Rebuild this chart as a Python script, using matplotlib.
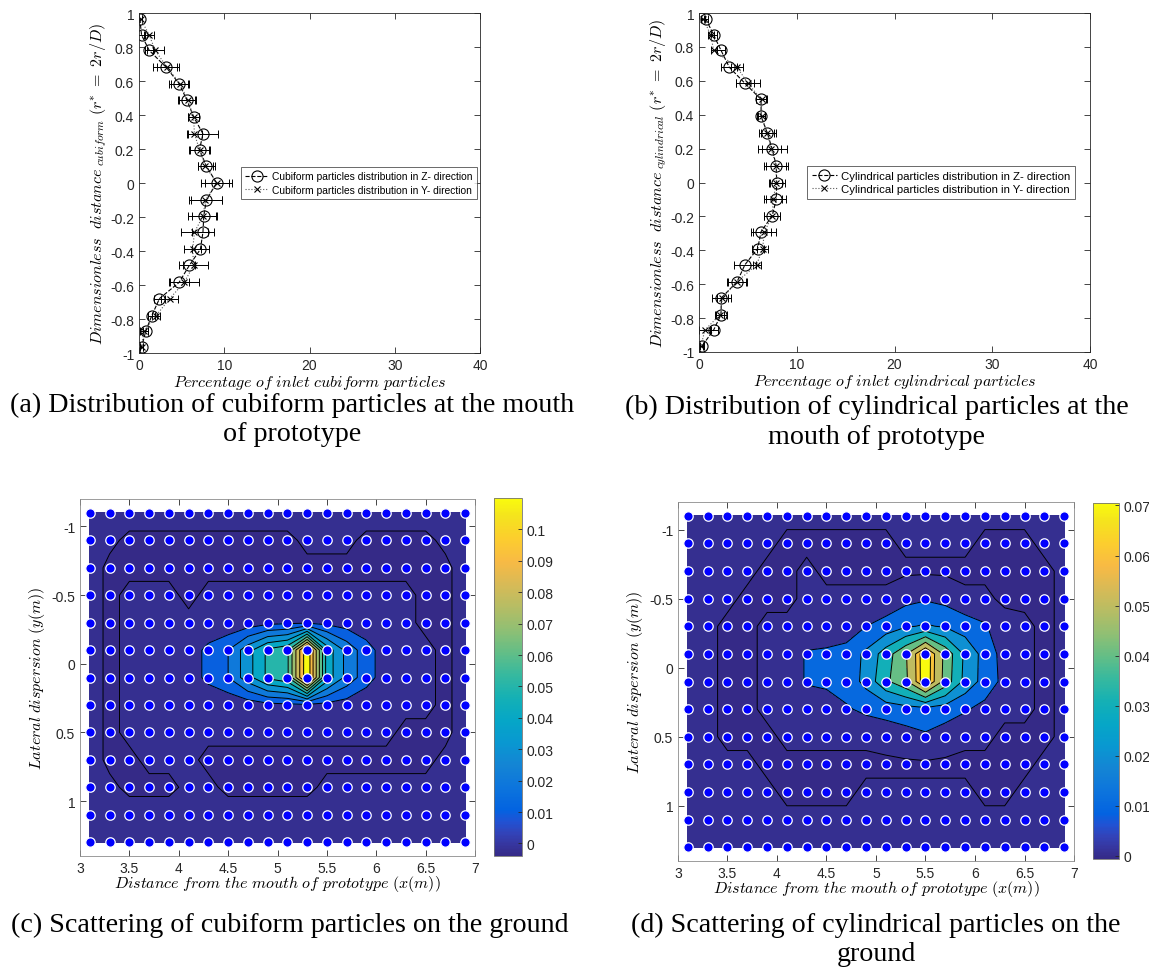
import numpy as np
import matplotlib
matplotlib.use('Agg')
import matplotlib.pyplot as plt
from matplotlib.colors import LinearSegmentedColormap, Normalize
from matplotlib.cm import ScalarMappable

plt.rcParams['mathtext.fontset'] = 'cm'
plt.rcParams['font.family'] = ['Liberation Sans', 'DejaVu Sans']
plt.rcParams['axes.unicode_minus'] = False

W, H = 1149, 979

# --- (a) / (b): profiles at the mouth of the prototype ---
r_star = [0.965, 0.87, 0.78, 0.68, 0.585, 0.49, 0.39, 0.29, 0.195, 0.1, 0.0,
          -0.1, -0.195, -0.29, -0.39, -0.485, -0.585, -0.68, -0.78, -0.87, -0.965]

cub_z = [0.1, 0.3, 1.2, 3.2, 4.7, 5.6, 6.4, 7.5, 7.1, 7.9, 9.1,
         7.9, 7.6, 7.5, 7.2, 5.9, 4.7, 2.4, 1.5, 0.8, 0.3]
cub_z_err = [0.2, 0.4, 0.5, 1.5, 1.2, 1.0, 0.6, 1.8, 1.2, 1.0, 1.8,
             1.8, 1.4, 1.3, 1.0, 0.7, 1.2, 0.6, 0.4, 0.3, 0.2]
cub_y = [0.2, 1.2, 1.9, 3.3, 4.8, 5.7, 6.4, 6.5, 7.1, 7.8, 9.1,
         7.8, 7.5, 6.5, 6.3, 6.4, 5.3, 3.6, 2.0, 0.6, 0.3]
cub_y_err = [0.2, 0.6, 1.0, 1.2, 1.0, 1.0, 0.6, 0.9, 1.1, 0.9, 1.4,
             1.9, 1.7, 1.6, 1.0, 1.7, 1.7, 1.0, 0.5, 0.5, 0.2]

cyl_z = [0.7, 1.5, 2.25, 3.1, 4.7, 6.35, 6.35, 7.0, 7.5, 7.9, 7.95,
         7.9, 7.5, 6.35, 6.0, 4.7, 3.9, 2.3, 2.25, 1.5, 0.3]
cyl_z_err = [0.2, 0.3, 0.4, 0.8, 0.9, 0.5, 0.4, 0.9, 1.5, 1.2, 0.8,
             1.0, 0.8, 1.0, 0.6, 1.1, 1.0, 1.0, 0.6, 0.4, 0.2]
cyl_y = [0.45, 1.2, 1.5, 3.9, 5.0, 6.4, 6.4, 7.0, 7.4, 7.9, 7.9,
         7.6, 7.5, 6.7, 6.5, 5.9, 3.9, 2.4, 2.15, 0.6, 0.2]
cyl_y_err = [0.2, 0.3, 0.3, 0.6, 1.2, 0.6, 0.4, 0.7, 1.0, 1.0, 0.6,
             0.9, 0.8, 1.2, 0.6, 0.4, 0.9, 0.6, 0.4, 0.6, 0.2]

# --- (c) / (d): measuring points on the ground and deposited fraction ---
x_pts = [3.1, 3.3, 3.5, 3.7, 3.9, 4.1, 4.3, 4.5, 4.7, 4.9,
         5.1, 5.3, 5.5, 5.7, 5.9, 6.1, 6.3, 6.5, 6.7, 6.9]
y_pts = [-1.1, -0.9, -0.7, -0.5, -0.3, -0.1, 0.1, 0.3, 0.5, 0.7, 0.9, 1.1, 1.3]

# values in 1/1000
cub_ground = [
    [2, 2, 2, 2, 2, 2, 2, 2, 2, 2, 2, 2, 2, 2, 2, 2, 2, 2, 2, 2],
    [2, 1, -1, -1, -1, -1, -1, -1, -1, -1, -1, 1, 1, 1, -1, -1, -1, -1, 1, 2],
    [2, -1, -1, -1, -1, -1, -1, -1, -1, -1, -1, -1, -1, -1, -1, -1, -1, -1, -1, 2],
    [2, -1, 1, 1, 1, -1, 1, 1, 1, 1, 1, 1, 1, 1, 1, 1, 1, -1, -1, 2],
    [2, -1, 1, 1, 1, 1, 1, 2, 4, 7, 8, 8, 7, 5, 3, 2, 1, -1, -1, 2],
    [2, -1, 1, 1, 2, 4, 13, 20, 36, 52, 58, 109, 46, 27, 14, 5, 2, 1, -1, 2],
    [2, -1, 1, 1, 2, 4, 13, 20, 36, 52, 58, 109, 46, 27, 14, 5, 2, 1, -1, 2],
    [2, -1, 1, 1, 1, 1, 1, 2, 4, 7, 8, 8, 7, 5, 3, 2, 1, 1, -1, 2],
    [2, -1, 1, 1, 1, 1, 1, 1, 1, 1, 1, 1, 1, 1, 1, 1, -1, -1, -1, 2],
    [2, -1, -1, 1, 1, 1, -1, -1, -1, -1, -1, -1, -1, -1, -1, -1, -1, -1, 1, 2],
    [2, 1, -1, -1, -1, 1, 1, -1, -1, -1, -1, -1, 1, 1, 1, 1, 1, 1, 1, 2],
    [2, 2, 2, 2, 2, 2, 2, 2, 2, 2, 2, 2, 2, 2, 2, 2, 2, 2, 2, 2],
    [2, 2, 2, 2, 2, 2, 2, 2, 2, 2, 2, 2, 2, 2, 2, 2, 2, 2, 2, 2],
]
cyl_ground = [
    [3, 3, 3, 3, 3, 3, 3, 3, 3, 3, 3, 3, 3, 3, 3, 3, 3, 3, 3, 3],
    [3, 3, 3, 3, 3, 1, 1, 1, 1, 1, 1, 3, 3, 3, 3, 1, 1, 1, 3, 3],
    [3, 3, 3, 3, 1, 1, 3, 1, 1, 1, 1, 1, 1, 1, 1, 1, 1, 1, 1, 3],
    [3, 3, 3, 1, 1, 1, 3, 3, 3, 3, 3, 7, 9, 7, 3, 3, 1, 1, 1, 3],
    [3, 3, 1, 1, 3, 3, 3, 3, 4, 10, 14, 19, 21, 19, 15, 11, 4, 3, 1, 3],
    [3, 3, 1, 1, 3, 4, 11, 12, 14, 22, 35, 49, 71, 47, 28, 16, 6, 3, 1, 3],
    [3, 3, 1, 1, 3, 4, 11, 12, 14, 23, 38, 48, 71, 46, 27, 16, 7, 3, 1, 3],
    [3, 3, 1, 1, 3, 3, 3, 5, 9, 12, 14, 16, 17, 15, 11, 7, 3, 3, 1, 3],
    [3, 3, 1, 1, 1, 3, 3, 3, 3, 3, 4, 6, 8.5, 5, 3, 3, 1, 1, 1, 3],
    [3, 3, 3, 3, 1, 1, 1, 1, 1, 1, 1, 1, 1, 1, 1, 1, 1, 1, 3, 3],
    [3, 3, 3, 3, 3, 1, 1, 1, 1, 3, 3, 3, 3, 3, 3, 1, 1, 3, 3, 3],
    [3, 3, 3, 3, 3, 3, 3, 3, 3, 3, 3, 3, 3, 3, 3, 3, 3, 3, 3, 3],
    [3, 3, 3, 3, 3, 3, 3, 3, 3, 3, 3, 3, 3, 3, 3, 3, 3, 3, 3, 3],
]

# parula-like colormap (sampled from the 64 entry table)
parula = LinearSegmentedColormap.from_list('parula', [
    (0 / 63, (0.2081, 0.1663, 0.5292)), (2 / 63, (0.2123, 0.2138, 0.6270)),
    (4 / 63, (0.1959, 0.2645, 0.7279)), (6 / 63, (0.1253, 0.3242, 0.8303)),
    (8 / 63, (0.0117, 0.3875, 0.8820)), (12 / 63, (0.0498, 0.4586, 0.8641)),
    (16 / 63, (0.0793, 0.5200, 0.8312)), (20 / 63, (0.0343, 0.5966, 0.8199)),
    (24 / 63, (0.0228, 0.6535, 0.7768)), (28 / 63, (0.0843, 0.6928, 0.7062)),
    (32 / 63, (0.2178, 0.7250, 0.6193)), (36 / 63, (0.3953, 0.7459, 0.5244)),
    (40 / 63, (0.5709, 0.7485, 0.4494)), (44 / 63, (0.7184, 0.7411, 0.3905)),
    (48 / 63, (0.8507, 0.7299, 0.3360)), (52 / 63, (0.9739, 0.7314, 0.2666)),
    (56 / 63, (0.9880, 0.8066, 0.1794)), (60 / 63, (0.9589, 0.8949, 0.1132)),
    (1.0, (0.9763, 0.9831, 0.0538))])

fig = plt.figure(figsize=(W / 100, H / 100), dpi=100)


def box(l, t, r, b):
    return [l / W, 1 - b / H, (r - l) / W, (b - t) / H]


def matlab_axes(ax, edge='0.15'):
    ax.tick_params(direction='in', top=True, right=True, labelsize=10,
                   labelcolor='0.15', color='0.15', length=4, width=0.6)
    for s in ax.spines.values():
        s.set_color(edge)
        s.set_linewidth(0.6)


def profile_panel(ax, zv, zerr, yv, yerr, name, xlab, ylab, leg_x, leg_fs):
    ax.errorbar(zv, r_star, xerr=zerr, fmt='none', ecolor='k', elinewidth=0.7,
                capsize=2.8, capthick=0.7)
    ax.errorbar(yv, r_star, xerr=yerr, fmt='none', ecolor='k', elinewidth=0.7,
                capsize=2.8, capthick=0.7)
    ax.plot(zv, r_star, '--', color='k', lw=0.8, marker='o', mfc='none', mec='k',
            ms=8, mew=0.8, label=f'{name} particles distribution in Z- direction')
    ax.plot(yv, r_star, ':', color='0.35', lw=0.8, marker='x', mec='k', ms=5,
            mew=0.8, label=f'{name} particles distribution in Y- direction')
    ax.set_xlim(0, 40)
    ax.set_ylim(-1, 1)
    ax.set_xticks([0, 10, 20, 30, 40])
    yt = [-1, -0.8, -0.6, -0.4, -0.2, 0, 0.2, 0.4, 0.6, 0.8, 1]
    ax.set_yticks(yt)
    ax.set_yticklabels([f'{v:g}' for v in yt])
    matlab_axes(ax)
    ax.set_xlabel(xlab, fontsize=11.5, labelpad=0.5)
    ax.set_ylabel(ylab, fontsize=11.5, labelpad=1)
    leg = ax.legend(loc='center left', bbox_to_anchor=(leg_x, 0.5), fontsize=leg_fs,
                    frameon=True, fancybox=False, edgecolor='0.15', handlelength=2.2,
                    borderpad=0.4, labelspacing=0.3, handletextpad=0.4)
    leg.get_frame().set_linewidth(0.6)


def ground_panel(ax, cax, vals, vmin, vmax, levels, cticks, xlab, ylab):
    X, Y = np.meshgrid(x_pts, y_pts)
    Z = np.array(vals, dtype=float) / 1000.0
    norm = Normalize(vmin, vmax)
    # MATLAB style: band coloured by its lower level, lowest bands almost the same
    cols = [parula(0.0), parula(0.012)] + [parula(norm(l)) for l in levels[2:-2]] + [parula(1.0)]
    ax.contourf(X, Y, Z, levels=levels, colors=cols)
    ax.contour(X, Y, Z, levels=levels[1:-1], colors='k', linewidths=0.7)
    ax.scatter(X.ravel(), Y.ravel(), s=46, c='#0000ff', edgecolors='white',
               linewidths=0.9, zorder=3)
    ax.set_xlim(3, 7)
    ax.set_ylim(1.4, -1.2)
    xt = [3, 3.5, 4, 4.5, 5, 5.5, 6, 6.5, 7]
    ax.set_xticks(xt)
    ax.set_xticklabels([f'{v:g}' for v in xt])
    yt = [-1, -0.5, 0, 0.5, 1]
    ax.set_yticks(yt)
    ax.set_yticklabels([f'{v:g}' for v in yt])
    matlab_axes(ax, edge='0.55')
    ax.set_xlabel(xlab, fontsize=11.5, labelpad=-1)
    ax.set_ylabel(ylab, fontsize=11.5, labelpad=3)
    cb = fig.colorbar(ScalarMappable(norm=norm, cmap=parula), cax=cax)
    cb.set_ticks(cticks)
    cb.set_ticklabels([f'{v:g}' for v in cticks])
    cax.tick_params(direction='in', labelsize=10, labelcolor='0.15', color='0.15',
                    length=3, width=0.6)
    cb.outline.set_edgecolor('0.45')
    cb.outline.set_linewidth(0.6)


ax_a = fig.add_axes(box(139, 14, 480, 354))
profile_panel(ax_a, cub_z, cub_z_err, cub_y, cub_y_err, 'Cubiform',
              r'$Percentage\ of\ inlet\ cubiform\ particles$',
              r'$Dimensionless\ \ distance_{\ cubiform}\ (r^{*}\ =\ 2r/D)$',
              0.285, 7.4)

ax_b = fig.add_axes(box(699, 14, 1090, 353))
profile_panel(ax_b, cyl_z, cyl_z_err, cyl_y, cyl_y_err, 'Cylindrical',
              r'$Percentage\ of\ inlet\ cylindrical\ particles$',
              r'$Dimensionless\ \ distance_{\ cylindrical}\ (r^{*}\ =\ 2r/D)$',
              0.262, 8.2)

ax_c = fig.add_axes(box(80, 500, 475, 857))
cax_c = fig.add_axes(box(494, 499, 522, 857))
ground_panel(ax_c, cax_c, cub_ground, -0.004, 0.110,
             [-0.01, 0, 0.01, 0.02, 0.03, 0.04, 0.05, 0.06, 0.07, 0.08, 0.09, 0.10, 0.2],
             [0, 0.01, 0.02, 0.03, 0.04, 0.05, 0.06, 0.07, 0.08, 0.09, 0.1],
             r'$Distance\ from\ the\ mouth\ of\ prototype\ (x(m))$',
             r'$Lateral\ dispersion\ (y(m))$')

ax_d = fig.add_axes(box(678, 503, 1074, 862))
cax_d = fig.add_axes(box(1093, 504, 1119, 860))
ground_panel(ax_d, cax_d, cyl_ground, -0.0007, 0.0705,
             [-0.01, 0.002, 0.01, 0.02, 0.03, 0.04, 0.05, 0.06, 0.065, 0.2],
             [0, 0.01, 0.02, 0.03, 0.04, 0.05, 0.06, 0.07],
             r'$Distance\ from\ the\ mouth\ of\ prototype\ (x(m))$',
             r'$Lateral\ dispersion\ (y(m))$')

# captions
cap = dict(ha='center', va='center', fontsize=20.2, family=['Liberation Serif', 'DejaVu Serif'])
fig.text(292 / W, 1 - 405 / H, '(a) Distribution of cubiform particles at the mouth', **cap)
fig.text(292 / W, 1 - 435 / H, 'of prototype', **cap)
fig.text(877 / W, 1 - 407 / H, '(b) Distribution of cylindrical particles at the', **cap)
fig.text(877 / W, 1 - 437 / H, 'mouth of prototype', **cap)
fig.text(290 / W, 1 - 925 / H, '(c) Scattering of cubiform particles on the ground', **cap)
fig.text(876 / W, 1 - 925 / H, '(d) Scattering of cylindrical particles on the', **cap)
fig.text(876 / W, 1 - 955 / H, 'ground', **cap)

fig.savefig('out.png', dpi=100)
